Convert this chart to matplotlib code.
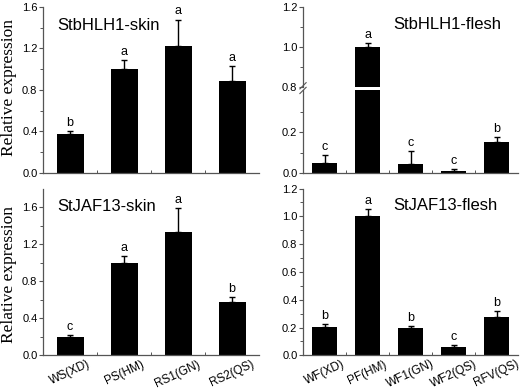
import numpy as np
import matplotlib.pyplot as plt

plt.rcParams['font.family'] = ['Liberation Sans', 'DejaVu Sans']

skin_labels = ['WS(XD)', 'PS(HM)', 'RS1(GN)', 'RS2(QS)']
flesh_labels = ['WF(XD)', 'PF(HM)', 'WF1(GN)', 'WF2(QS)', 'RFV(QS)']

bhlh_skin = [0.373, 1.0, 1.225, 0.89]
bhlh_skin_err = [0.032, 0.093, 0.254, 0.142]
bhlh_skin_sig = ['b', 'a', 'a', 'a']

bhlh_flesh = [0.049, 1.0, 0.043, 0.01, 0.151]
bhlh_flesh_err = [0.041, 0.023, 0.067, 0.008, 0.026]
bhlh_flesh_sig = ['c', 'a', 'c', 'c', 'b']

jaf_skin = [0.195, 0.998, 1.326, 0.58]
jaf_skin_err = [0.021, 0.076, 0.263, 0.047]
jaf_skin_sig = ['c', 'a', 'a', 'b']

jaf_flesh = [0.202, 1.0, 0.197, 0.0625, 0.279]
jaf_flesh_err = [0.024, 0.055, 0.014, 0.01, 0.041]
jaf_flesh_sig = ['b', 'a', 'b', 'c', 'b']

spine_col = '#555555'


def style(ax, n, ylim, major, minor):
    ax.set_xlim(-0.5, n - 0.5)
    ax.set_ylim(*ylim)
    ax.set_yticks(major)
    ax.set_yticks(minor, minor=True)
    ax.set_xticks(np.arange(n))
    ax.set_xticks(np.arange(n - 1) + 0.5, minor=True)
    for s in ['top', 'right']:
        ax.spines[s].set_visible(False)
    for s in ['left', 'bottom']:
        ax.spines[s].set_color(spine_col)
        ax.spines[s].set_linewidth(0.9)
    ax.tick_params(axis='y', which='major', length=3, width=0.8, color=spine_col,
                   labelsize=8, pad=1)
    ax.tick_params(axis='y', which='minor', length=2, width=0.7, color=spine_col)
    ax.tick_params(axis='x', which='major', length=0, labelsize=8.5, pad=2)
    ax.tick_params(axis='x', which='minor', length=2, width=0.7, color=spine_col,
                   direction='in')
    ax.yaxis.set_major_formatter(plt.FormatStrFormatter('%.1f'))


def bars(ax, vals, errs, sig, width):
    x = np.arange(len(vals))
    ax.bar(x, vals, width=width, color='black', zorder=2)
    ax.errorbar(x, vals, yerr=[np.zeros(len(errs)), errs], fmt='none',
                ecolor='black', elinewidth=1, capsize=2.5, capthick=1, zorder=3)
    for xi, v, e, s in zip(x, vals, errs, sig):
        ax.annotate(s, (xi, v + e), xytext=(0, 1.5), textcoords='offset points',
                    ha='center', va='bottom', fontsize=9)


fig = plt.figure(figsize=(5.2, 3.89), dpi=100)

# top-left
ax1 = fig.add_axes([0.0827, 0.5553, 0.4154, 0.4267])
bars(ax1, bhlh_skin, bhlh_skin_err, bhlh_skin_sig, 0.5)
style(ax1, 4, (0, 1.6), np.arange(0, 1.61, 0.4), np.arange(0.2, 1.6, 0.4))
ax1.set_xticklabels([])
ax1.text(0.065, 0.89, 'StbHLH1-skin', transform=ax1.transAxes, fontsize=12,
         va='center')

# top-right, broken axis
ax2l = fig.add_axes([0.5827, 0.5553, 0.4135, 0.2121])
ax2u = fig.add_axes([0.5827, 0.7751, 0.4135, 0.2069])
for a in (ax2l, ax2u):
    bars(a, bhlh_flesh, bhlh_flesh_err, bhlh_flesh_sig, 0.6)
style(ax2l, 5, (0, 0.406), [0.0, 0.2], [0.1, 0.3])
style(ax2u, 5, (0.8, 1.2), [0.8, 1.0, 1.2], [0.9, 1.1])
ax2l.set_xticklabels([])
ax2u.spines['bottom'].set_visible(False)
ax2u.tick_params(axis='x', which='both', bottom=False, labelbottom=False)
for t in ax2u.texts[:1] + ax2u.texts[2:]:
    t.set_visible(False)
for i, t in enumerate(ax2l.texts):
    if i == 1:
        t.set_visible(False)
for dy in (-0.004, 0.008):
    fig.add_artist(plt.Line2D([0.5827 - 0.006, 0.5827 + 0.006],
                              [0.7715 + dy - 0.008, 0.7715 + dy + 0.008],
                              color=spine_col, lw=0.8))
ax2u.text(0.42, 0.78, 'StbHLH1-flesh', transform=ax2u.transAxes, fontsize=12,
          va='center')

# bottom-left
ax3 = fig.add_axes([0.0827, 0.0866, 0.4154, 0.4288])
bars(ax3, jaf_skin, jaf_skin_err, jaf_skin_sig, 0.5)
style(ax3, 4, (0, 1.8), np.arange(0, 1.61, 0.4), np.arange(0.2, 1.8, 0.4))
ax3.set_xticklabels(skin_labels, rotation=25, ha='center')
ax3.text(0.065, 0.89, 'StJAF13-skin', transform=ax3.transAxes, fontsize=12,
         va='center')

# bottom-right
ax4 = fig.add_axes([0.5827, 0.0866, 0.4135, 0.4288])
bars(ax4, jaf_flesh, jaf_flesh_err, jaf_flesh_sig, 0.6)
style(ax4, 5, (0, 1.2), np.arange(0, 1.21, 0.2), np.arange(0.1, 1.2, 0.2))
ax4.set_xticklabels(flesh_labels, rotation=25, ha='center')
ax4.text(0.42, 0.9, 'StJAF13-flesh', transform=ax4.transAxes, fontsize=12,
         va='center')

for yc in (0.775, 0.295):
    fig.text(0.018, yc, 'Relative expression', rotation=90, ha='center',
             va='center', fontsize=12.5, family='Liberation Serif')

fig.savefig('out.png', dpi=100)
